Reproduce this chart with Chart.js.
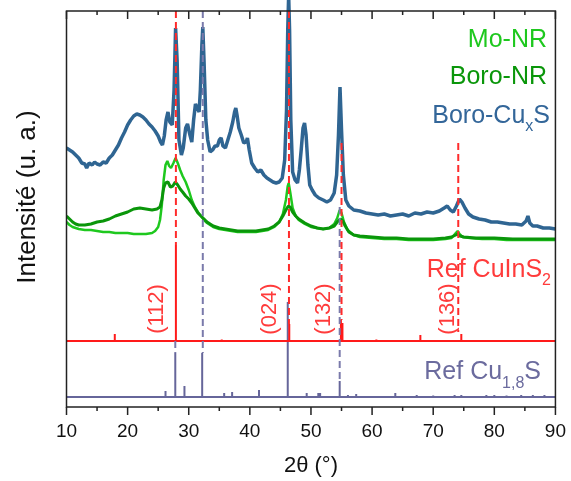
<!DOCTYPE html>
<html>
<head>
<meta charset="utf-8">
<script src="https://cdn.jsdelivr.net/npm/chart.js@4.4.1/dist/chart.umd.min.js"></script>
<style>
html,body{margin:0;padding:0;background:#fff;}
canvas{display:block;}
</style>
</head>
<body>
<canvas id="c" width="571" height="481"></canvas>
<script>
// ---------- DATA (intensities in arbitrary, stacked units) ----------
const boroCuxS_2theta = [10.0,10.5,11.0,11.5,12.0,12.5,13.0,13.3,13.7,14.2,14.6,15.0,15.5,16.0,16.5,17.0,17.5,18.0,18.5,19.0,19.5,20.0,20.5,21.0,21.5,22.0,22.5,23.0,23.5,24.0,24.5,25.0,25.4,25.7,26.0,26.3,26.6,26.9,27.3,27.6,27.85,28.1,28.4,28.8,29.1,29.5,29.8,30.2,30.5,30.8,31.1,31.4,31.7,31.9,32.15,32.3,32.5,32.8,33.1,33.5,33.9,34.3,34.7,35.0,35.3,35.6,36.0,36.4,36.8,37.2,37.5,37.7,37.9,38.2,38.6,39.0,39.4,39.6,39.9,40.3,40.8,41.3,41.8,42.3,42.8,43.3,43.8,44.3,44.8,45.3,45.7,46.0,46.2,46.35,46.5,46.7,47.0,47.4,47.8,48.1,48.4,48.7,48.95,49.2,49.5,49.8,50.2,50.7,51.3,52.0,52.6,53.2,53.8,54.2,54.5,54.75,55.0,55.3,55.7,56.2,57.0,58.0,59.0,60.0,61.0,62.0,63.0,64.0,65.0,66.0,67.0,68.0,69.0,70.0,71.0,71.8,72.3,72.8,73.3,73.8,74.3,74.7,75.2,75.8,76.5,77.5,78.5,79.5,80.5,81.5,82.5,83.5,84.5,85.2,85.5,85.8,86.3,87.0,88.0,89.0,90.0];
const boroCuxS_I = [259,257,255,252,249,244,243,239,244,242,245,243,242,245,244,249,252,257,262,269,275,282,287,291,293,292,290,287,283,280,276,271,265,262,271,287,295,285,282,317,379,347,267,252,259,279,283,272,265,287,303,299,295,317,362,380,347,287,267,255,257,261,261,267,269,261,259,267,275,285,295,299,292,279,272,264,265,269,257,244,239,235,237,232,229,227,225,224,225,229,247,297,377,412,377,287,235,227,224,237,257,279,284,272,242,222,217,212,209,207,205,207,214,232,272,320,277,232,207,201,197,196,194,193,192,193,191,192,193,191,194,193,195,194,196,199,201,197,195,201,208,205,199,193,190,188,187,185,185,184,183,183,182,186,191,184,181,181,179,179,178];

const moNR_2theta = [10.0,10.5,11.0,12.0,13.0,14.0,15.0,16.0,17.0,18.0,19.0,20.0,21.0,22.0,23.0,24.0,24.5,25.0,25.3,25.6,25.9,26.2,26.5,26.8,27.1,27.5,27.85,28.2,28.6,29.0,29.5,30.0,30.5,31.0,31.5,32.0,32.5,33.0,34.0,35.0,36.0,37.0,38.0,39.0,40.0,41.0,42.0,43.0,44.0,44.8,45.4,45.9,46.2,46.35,46.6,47.0,47.5,48.0,49.0,50.0,51.0,52.0,53.0,53.8,54.3,54.7,55.0,55.4,56.0,57.0,58.0,60.0,62.0,64.0,66.0,68.0,70.0,72.0,73.0,73.7,74.0,74.3,74.8,76.0,78.0,80.0,82.0,84.0,86.0,88.0,90.0];
const moNR_I = [185,182,180,178,177,177,176,175,175,174,174,174,173,173,173,174,176,180,187,202,227,242,246,241,239,244,249,244,237,231,225,217,207,200,195,191,187,184,180,178,177,176,175,175,175,175,176,177,180,185,193,207,221,224,215,199,191,187,183,180,179,178,179,183,189,197,194,185,177,172,170,169,168,168,167,167,167,168,169,174,176,173,170,169,168,168,167,167,167,167,167];

const boroNR_2theta = [10.0,10.5,11.0,11.5,12.0,13.0,14.0,15.0,16.0,17.0,18.0,19.0,20.0,21.0,22.0,23.0,24.0,24.8,25.3,25.6,25.9,26.2,26.6,27.0,27.4,27.8,28.2,28.6,29.0,29.5,30.0,30.5,31.0,31.5,32.0,32.5,33.0,34.0,35.0,36.0,37.0,38.0,39.0,40.0,41.0,42.0,43.0,44.0,44.8,45.4,45.9,46.3,46.6,47.0,47.5,48.0,49.0,50.0,51.0,52.0,53.0,53.8,54.3,54.8,55.2,55.6,56.2,57.0,58.0,60.0,62.0,64.0,66.0,68.0,70.0,72.0,73.0,73.7,74.0,74.4,75.0,77.0,80.0,83.0,86.0,90.0];
const boroNR_I = [191,188,185,183,182,182,183,185,186,188,191,193,195,198,199,198,197,198,200,207,219,224,225,220,221,225,222,218,215,211,208,204,199,194,191,188,185,181,179,178,177,176,176,176,176,177,178,181,185,191,197,201,200,195,191,188,184,181,179,178,179,181,185,188,186,181,175,172,171,170,169,169,168,168,168,169,170,172,173,171,170,169,169,168,168,168];

// Reference patterns (stick positions and heights)
const refCuInS2_baseline = 66;
const refCuInS2_2theta = [17.9,27.9,35.4,46.45,54.9,55.15,60.7,67.9,74.6];
const refCuInS2_I = [73,162,67.5,83,87,84,67.5,72,73];

const refCu18S_baseline = 10;
const refCu18S_2theta = [26.2,27.8,29.3,32.2,35.8,37.1,41.5,46.2,49.3,51.2,51.5,54.7,56.05,57.4,63.8,67.3,70.0,73.5,74.6,78.7,80.0,82.0,84.4,86.3,88.2];
const refCu18S_I = [16,54,21,54,14,15,17,105,14,14,14,26,12,13,14,12,11.5,12,12,12,12,11.5,12,12,12];

// Guide lines (2θ, from intensity, to intensity)
const guideRed_2theta = [27.9,46.4,55.0,74.1];
const guideRed_from = [396,396,264,264];
const guideRed_to = [162,83,87,75];
const guidePurple_2theta = [27.8,32.3,54.7];
const guidePurple_from = [66,396,200];
const guidePurple_to = [54,54,26];

// Miller index labels
const hklLabels = ['(112)','(024)','(132)','(136)'];

// Tick labels
const xTicks = [10,20,30,40,50,60,70,80,90];

// ---------- BUILD ----------
const FONT = "'Liberation Sans', Arial, sans-serif";
Chart.defaults.font.family = FONT;

const zip = (xs, ys) => xs.map((x, i) => ({x, y: ys[i]}));
function sticks(xs, ys, base) {
  const pts = [{x: 10, y: base}];
  xs.forEach((x, i) => { pts.push({x, y: base}, {x, y: ys[i]}, {x, y: base}); });
  pts.push({x: 90, y: base});
  return pts;
}
function guides(xs, from, to) {
  const pts = [];
  xs.forEach((x, i) => { pts.push({x, y: from[i]}, {x, y: to[i]}, {x, y: null}); });
  return pts;
}

const C_BLUE = '#2f6592', C_LG = '#1ec81e', C_DG = '#0a960a', C_RED = '#ff2b2b', C_PUR = '#66669a';

const common = {pointRadius: 0, tension: 0, borderJoinStyle: 'bevel', fill: false};

const datasets = [
  {...common, label: 'guide red', data: guides(guideRed_2theta, guideRed_from, guideRed_to), borderColor: C_RED, borderWidth: 2, borderDash: [7,4], order: 0, spanGaps: false},
  {...common, label: 'guide purple', data: guides(guidePurple_2theta, guidePurple_from, guidePurple_to), borderColor: '#7a7aab', borderWidth: 2, borderDash: [7,4], order: 0, spanGaps: false},
  {...common, label: 'Boro-CuxS', data: zip(boroCuxS_2theta, boroCuxS_I), borderColor: C_BLUE, borderWidth: 3.5, order: 1, clip: {left: 0, top: false, right: 0, bottom: 0}},
  {...common, label: 'Boro-NR', data: zip(boroNR_2theta, boroNR_I), borderColor: C_DG, borderWidth: 3, order: 2},
  {...common, label: 'Mo-NR', data: zip(moNR_2theta, moNR_I), borderColor: C_LG, borderWidth: 2.5, order: 3},
  {...common, label: 'Ref CuInS2', data: sticks(refCuInS2_2theta, refCuInS2_I, refCuInS2_baseline), borderColor: '#ff1a1a', borderWidth: 2, order: 4},
  {...common, label: 'Ref Cu1,8S', data: sticks(refCu18S_2theta, refCu18S_I, refCu18S_baseline), borderColor: C_PUR, borderWidth: 2, order: 5}
];

const framePlugin = {
  id: 'frame',
  afterDraw(chart) {
    const {ctx, chartArea: a, scales: {x}} = chart;
    ctx.save();
    ctx.strokeStyle = '#222';
    ctx.lineWidth = 1.5;
    ctx.strokeRect(a.left, a.top, a.right - a.left, a.bottom - a.top);
    for (let v = 10; v <= 90; v += 5) {
      const px = x.getPixelForValue(v);
      const len = v % 10 === 0 ? 8 : 4;
      ctx.beginPath();
      ctx.moveTo(px, a.bottom); ctx.lineTo(px, a.bottom + len);
      ctx.moveTo(px, a.top); ctx.lineTo(px, a.top + len);
      ctx.stroke();
    }
    // y-axis title
    ctx.fillStyle = '#111';
    ctx.font = '26px ' + FONT;
    ctx.textAlign = 'center';
    ctx.textBaseline = 'middle';
    ctx.translate(28, 197);
    ctx.rotate(-Math.PI / 2);
    ctx.fillText('Intensité (u. a.)', 0, 0);
    ctx.restore();
  }
};

function drawParts(ctx, right, parts) {
  let w = 0;
  parts.forEach(p => { ctx.font = p.size + 'px ' + FONT; p.w = ctx.measureText(p.t).width; w += p.w; });
  let xx = right - w;
  parts.forEach(p => {
    ctx.font = p.size + 'px ' + FONT;
    ctx.fillText(p.t, xx, p.y);
    xx += p.w;
  });
}

const textPlugin = {
  id: 'texts',
  afterDraw(chart) {
    const {ctx, scales: {x, y}} = chart;
    ctx.save();
    ctx.textAlign = 'left';
    ctx.textBaseline = 'alphabetic';
    ctx.fillStyle = C_LG;
    drawParts(ctx, 547, [{t: 'Mo-NR', size: 25, y: 47}]);
    ctx.fillStyle = C_DG;
    drawParts(ctx, 547, [{t: 'Boro-NR', size: 25, y: 84}]);
    ctx.fillStyle = '#336699';
    drawParts(ctx, 550, [{t: 'Boro-Cu', size: 25, y: 123}, {t: 'x', size: 16, y: 131}, {t: 'S', size: 25, y: 123}]);
    ctx.fillStyle = '#ff3b3b';
    drawParts(ctx, 551, [{t: 'Ref CuInS', size: 25, y: 277}, {t: '2', size: 16, y: 285}]);
    ctx.fillStyle = '#6b6b9e';
    drawParts(ctx, 541, [{t: 'Ref Cu', size: 25, y: 379}, {t: '1,8', size: 16, y: 388}, {t: 'S', size: 25, y: 379}]);

    // rotated Miller indices
    const hklAt = [24.7, 43.2, 52.0, 72.25];
    ctx.fillStyle = '#ff3b3b';
    ctx.font = '22px ' + FONT;
    ctx.textAlign = 'center';
    ctx.textBaseline = 'middle';
    hklLabels.forEach((t, i) => {
      ctx.save();
      ctx.translate(x.getPixelForValue(hklAt[i]), y.getPixelForValue(98));
      ctx.rotate(-Math.PI / 2);
      ctx.fillText(t, 0, 1);
      ctx.restore();
    });
    ctx.restore();
  }
};

new Chart(document.getElementById('c'), {
  type: 'line',
  data: {datasets},
  options: {
    responsive: false,
    animation: false,
    devicePixelRatio: 1,
    layout: {padding: {left: 0, right: 13.5, top: 11, bottom: 0}},
    plugins: {legend: {display: false}, tooltip: {enabled: false}},
    scales: {
      x: {
        type: 'linear', min: 10, max: 90, position: 'bottom',
        afterBuildTicks: s => { s.ticks = xTicks.map(v => ({value: v})); },
        ticks: {font: {size: 19}, color: '#111', padding: 5, maxRotation: 0, autoSkip: false},
        grid: {display: false, drawTicks: true, tickLength: 8},
        border: {display: false},
        title: {display: true, text: '2θ (°)', font: {size: 22}, color: '#111', padding: {top: 0, bottom: 2}},
        afterFit: s => { s.height = 74; }
      },
      y: {
        type: 'linear', min: 0, max: 396, position: 'left',
        ticks: {display: false},
        grid: {display: false, drawTicks: false},
        border: {display: false},
        title: {display: false},
        afterFit: s => { s.width = 66.5; }
      }
    }
  },
  plugins: [framePlugin, textPlugin]
});
</script>
</body>
</html>
